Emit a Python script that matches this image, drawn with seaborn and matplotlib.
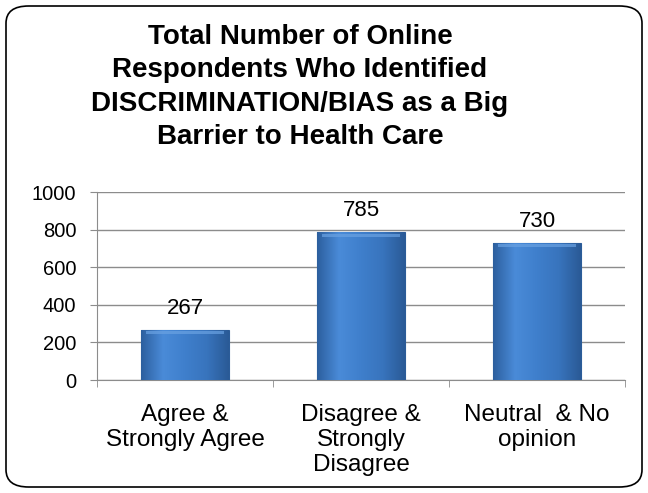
import matplotlib
matplotlib.use('Agg')
import matplotlib.pyplot as plt
import seaborn as sns
import pandas as pd
import numpy as np
from matplotlib.patches import FancyBboxPatch
from matplotlib.colors import LinearSegmentedColormap

categories = ['Agree &\nStrongly Agree', 'Disagree &\nStrongly\nDisagree', 'Neutral  & No\nopinion']
counts = [267, 785, 730]
title = 'Total Number of Online\nRespondents Who Identified\nDISCRIMINATION/BIAS as a Big\nBarrier to Health Care'

df = pd.DataFrame({'category': categories, 'count': counts})

sns.set_style('white')
plt.rcParams['font.family'] = ['Liberation Sans', 'DejaVu Sans']
plt.rcParams['text.color'] = 'black'
plt.rcParams['xtick.color'] = 'black'
plt.rcParams['ytick.color'] = 'black'

fig = plt.figure(figsize=(6.48, 4.93), dpi=100)
ax = fig.add_axes([97 / 648, 1 - 380 / 493, 528 / 648, 188 / 493])

sns.barplot(data=df, x='category', y='count', color='#3f7fcc', width=0.5,
            saturation=1, edgecolor='#2b5c99', linewidth=0.8, ax=ax, zorder=3)

# cylinder-ish shading on each bar
cmap = LinearSegmentedColormap.from_list('bar', ['#2c5f9e', '#4a8bd8', '#3f7fcc', '#3874bd', '#2a5a96'])
grad = np.linspace(0, 1, 256).reshape(1, -1)
for p in ax.patches:
    x0, y0 = p.get_x(), p.get_y()
    w, h = p.get_width(), p.get_height()
    im = ax.imshow(grad, cmap=cmap, aspect='auto', extent=[x0, x0 + w, y0, y0 + h], zorder=3.5)
    im.set_clip_path(p)
    ax.fill_between([x0 + w * 0.06, x0 + w * 0.94], y0 + h - 22, y0 + h - 6, color='#6aa2e2', alpha=0.7, zorder=3.6, lw=0)
    ax.annotate(f'{int(h)}', (x0 + w / 2, y0 + h), xytext=(0, 8), textcoords='offset points',
                ha='center', va='bottom', fontsize=16, zorder=5)

ax.set_xlim(-0.5, 2.5)
ax.set_ylim(0, 1000)
ax.set_yticks(range(0, 1001, 200))
ax.yaxis.grid(True, color='#8c8c8c', lw=1)
ax.set_axisbelow(True)
ax.set_xlabel('')
ax.set_ylabel('')
for s in ['top', 'right']:
    ax.spines[s].set_visible(False)
ax.spines['left'].set_color('#8c8c8c')
ax.spines['bottom'].set_color('#8c8c8c')
ax.tick_params(axis='y', left=True, length=5, color='#8c8c8c', labelsize=14.5, pad=10)
ax.tick_params(axis='x', bottom=False, labelsize=17.5, pad=14)
ax.set_xticks([-0.5, 0.5, 1.5, 2.5], minor=True)
ax.tick_params(axis='x', which='minor', bottom=True, length=5, color='#8c8c8c')
for lbl in ax.get_xticklabels():
    lbl.set_linespacing(1.17)

fig.text(0.463, 0.952, title, ha='center', va='top', fontsize=20, fontweight='bold', linespacing=1.38)

border = FancyBboxPatch((6 / 648, 6 / 493), 636 / 648, 481 / 493,
                        boxstyle='round,pad=0,rounding_size=0.035',
                        transform=fig.transFigure, fill=False, ec='black', lw=1.2)
fig.patches.append(border)

fig.savefig('out.png', dpi=100)
